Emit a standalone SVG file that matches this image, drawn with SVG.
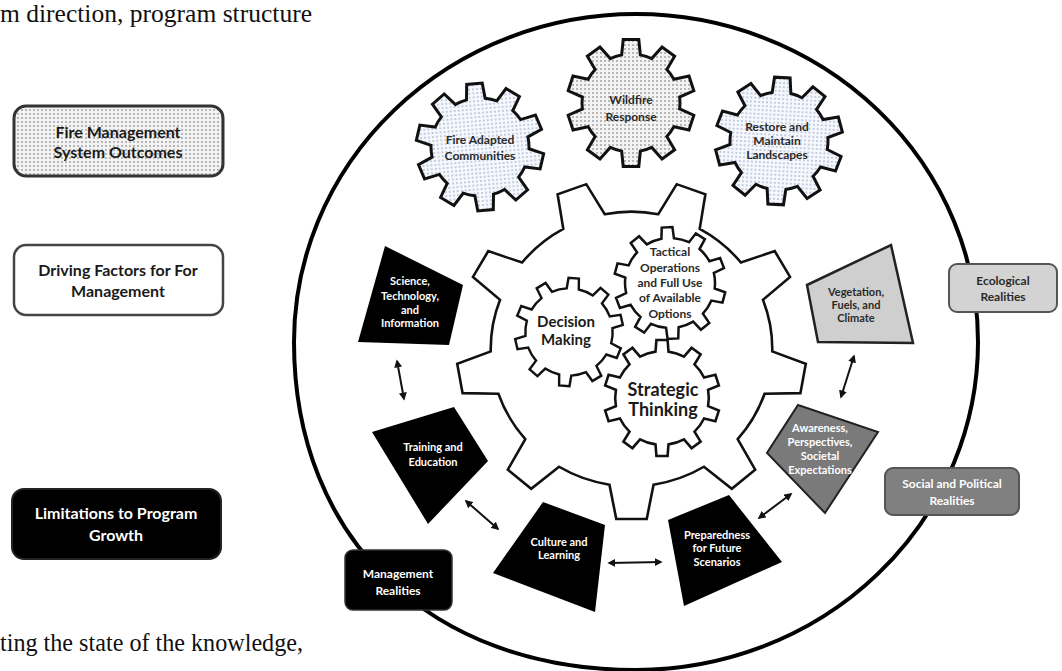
<svg xmlns="http://www.w3.org/2000/svg" width="1062" height="671" viewBox="0 0 1062 671">
<style>
.t{font-family:Lato,"Open Sans","Liberation Sans",sans-serif;font-weight:700;text-anchor:middle}
.lg{font-size:16px;fill:#1a1a1a}
.og{font-size:12px;fill:#2a2a2a}
.q{font-size:11px;fill:#fff}
.qd{font-size:11px;fill:#2a2a2a}
.re{font-size:12px}
.serif{font-family:"Liberation Serif","Times New Roman",serif;font-size:25px;fill:#111}
.outer{stroke:#111;stroke-width:3;stroke-linejoin:miter}
.inner{fill:#fff;stroke:#111;stroke-width:2.5}
.arr{stroke:#111;stroke-width:2;fill:none;marker-start:url(#ah);marker-end:url(#ah)}
</style>
<defs>
<pattern id="dotsGray" width="4" height="4" patternUnits="userSpaceOnUse">
<rect width="4" height="4" fill="#f3f3f3"/><circle cx="2" cy="2" r="0.9" fill="#9c9c9c"/>
</pattern>
<pattern id="dotsBlue" width="4" height="4" patternUnits="userSpaceOnUse">
<rect width="4" height="4" fill="#f6f8fc"/><circle cx="2" cy="2" r="0.9" fill="#aab8d4"/>
</pattern>
<marker id="ah" viewBox="0 0 10 10" refX="8" refY="5" markerWidth="4" markerHeight="4" orient="auto-start-reverse">
<path d="M0,0 L10,5 L0,10 Z" fill="#111"/>
</marker>
<path id="gearO" d="M48.63,5.97 L62.82,12.21 L58.00,27.05 L42.86,23.76 A49,49 0 0 1 35.84,33.42 L43.65,46.81 L31.03,55.97 L20.71,44.41 A49,49 0 0 1 9.35,48.10 L7.80,63.52 L-7.80,63.52 L-9.35,48.10 A49,49 0 0 1 -20.71,44.41 L-31.03,55.97 L-43.65,46.81 L-35.84,33.42 A49,49 0 0 1 -42.86,23.76 L-58.00,27.05 L-62.82,12.21 L-48.63,5.97 A49,49 0 0 1 -48.63,-5.97 L-62.82,-12.21 L-58.00,-27.05 L-42.86,-23.76 A49,49 0 0 1 -35.84,-33.42 L-43.65,-46.81 L-31.03,-55.97 L-20.71,-44.41 A49,49 0 0 1 -9.35,-48.10 L-7.80,-63.52 L7.80,-63.52 L9.35,-48.10 A49,49 0 0 1 20.71,-44.41 L31.03,-55.97 L43.65,-46.81 L35.84,-33.42 A49,49 0 0 1 42.86,-23.76 L58.00,-27.05 L62.82,-12.21 L48.63,-5.97 A49,49 0 0 1 48.63,5.97 Z"/>
<path id="gearS" d="M44.32,7.81 L54.67,12.12 L51.36,22.33 L40.45,19.73 A45,45 0 0 1 31.26,32.37 L37.11,41.94 L28.42,48.25 L21.13,39.73 A45,45 0 0 1 6.26,44.56 L5.36,55.74 L-5.36,55.74 L-6.26,44.56 A45,45 0 0 1 -21.13,39.73 L-28.42,48.25 L-37.11,41.94 L-31.26,32.37 A45,45 0 0 1 -40.45,19.73 L-51.36,22.33 L-54.67,12.12 L-44.32,7.81 A45,45 0 0 1 -44.32,-7.81 L-54.67,-12.12 L-51.36,-22.33 L-40.45,-19.73 A45,45 0 0 1 -31.26,-32.37 L-37.11,-41.94 L-28.42,-48.25 L-21.13,-39.73 A45,45 0 0 1 -6.26,-44.56 L-5.36,-55.74 L5.36,-55.74 L6.26,-44.56 A45,45 0 0 1 21.13,-39.73 L28.42,-48.25 L37.11,-41.94 L31.26,-32.37 A45,45 0 0 1 40.45,-19.73 L51.36,-22.33 L54.67,-12.12 L44.32,-7.81 A45,45 0 0 1 44.32,7.81 Z"/>
</defs>
<rect width="1062" height="671" fill="#fff"/>

<!-- page text -->
<text class="serif" x="0" y="22" textLength="312" lengthAdjust="spacingAndGlyphs">m direction, program structure</text>
<text class="serif" x="0" y="651" textLength="303" lengthAdjust="spacingAndGlyphs">ting the state of the knowledge,</text>

<!-- legend -->
<g id="legend-outcomes">
<rect x="14" y="106" width="209" height="70" rx="12" fill="url(#dotsGray)" stroke="#333" stroke-width="3"/>
<text class="t lg" x="118" y="138">Fire Management</text>
<text class="t lg" x="118" y="158">System Outcomes</text>
</g>
<g id="legend-driving">
<rect x="14" y="245" width="209" height="70" rx="12" fill="#fff" stroke="#444" stroke-width="2.5"/>
<text class="t lg" x="118" y="276">Driving Factors for For</text>
<text class="t lg" x="118" y="297">Management</text>
</g>
<g id="legend-limitations">
<rect x="12" y="489" width="209" height="70" rx="12" fill="#000" stroke="#222" stroke-width="2"/>
<text class="t lg" x="116" y="519" style="fill:#fff">Limitations to Program</text>
<text class="t lg" x="116" y="541" style="fill:#fff">Growth</text>
</g>

<!-- big outer ring -->
<g id="ring">
<path d="M294,342 A342,328 0 0 1 978,342 A342,328 0 0 1 636,670 C431,670 294,539 294,342 Z" fill="none" stroke="#000" stroke-width="4"/>
</g>

<!-- central gear -->
<g id="central-gear">
<path transform="translate(631.5,349) scale(1.035,1.01) translate(-631,-350)" fill="#fff" stroke="#111" stroke-width="2.5" stroke-linejoin="miter" d="M652.3,484.3 L645.7,518.4 L616.3,518.4 L609.7,484.3 A136,136 0 0 1 561.0,466.6 L534.1,488.4 L511.5,469.5 L528.4,439.2 A136,136 0 0 1 502.4,394.3 L467.8,393.7 L462.6,364.7 L495.0,352.4 A136,136 0 0 1 504.0,301.3 L477.8,278.6 L492.6,253.1 L525.3,264.4 A136,136 0 0 1 565.1,231.1 L559.6,196.8 L587.3,186.8 L605.1,216.5 A136,136 0 0 1 656.9,216.5 L674.7,186.8 L702.4,196.8 L696.9,231.1 A136,136 0 0 1 736.7,264.4 L769.4,253.1 L784.2,278.6 L758.0,301.3 A136,136 0 0 1 767.0,352.4 L799.4,364.7 L794.2,393.7 L759.6,394.3 A136,136 0 0 1 733.6,439.2 L750.5,469.5 L727.9,488.4 L701.0,466.6 A136,136 0 0 1 652.3,484.3 Z"/>
</g>

<!-- outcome gears -->
<g id="fire-adapted">
<use href="#gearO" class="outer" fill="url(#dotsBlue)" transform="translate(480,147) rotate(-5)"/>
<text class="t og" x="480" y="144">Fire Adapted</text>
<text class="t og" x="480" y="160">Communities</text>
</g>
<g id="wildfire-response">
<use href="#gearO" class="outer" fill="url(#dotsGray)" transform="translate(631,103)"/>
<text class="t og" x="631" y="104">Wildfire</text>
<text class="t og" x="631" y="121">Response</text>
</g>
<g id="restore-landscapes">
<use href="#gearO" class="outer" fill="url(#dotsBlue)" transform="translate(779,141) rotate(3)"/>
<text class="t og" x="777" y="131">Restore and</text>
<text class="t og" x="777" y="145">Maintain</text>
<text class="t og" x="777" y="159">Landscapes</text>
</g>

<!-- inner gears -->
<g id="tactical-operations">
<use href="#gearS" class="inner" transform="translate(670,283) rotate(-3)"/>
<text class="t og" x="670" y="256">Tactical</text>
<text class="t og" x="670" y="272">Operations</text>
<text class="t og" x="670" y="287">and Full Use</text>
<text class="t og" x="670" y="302">of Available</text>
<text class="t og" x="670" y="318">Options</text>
</g>
<g id="decision-making">
<use href="#gearS" class="inner" transform="translate(569,332) rotate(5) scale(0.97)"/>
<text class="t" x="566" y="327" style="font-size:15px;fill:#1a1a1a">Decision</text>
<text class="t" x="566" y="345" style="font-size:15px;fill:#1a1a1a">Making</text>
</g>
<g id="strategic-thinking">
<use href="#gearS" class="inner" transform="translate(662,398) scale(1.04)"/>
<text class="t" x="663" y="396" style="font-size:18px;fill:#1a1a1a">Strategic</text>
<text class="t" x="663" y="416" style="font-size:18px;fill:#1a1a1a">Thinking</text>
</g>

<!-- driving factors -->
<g id="science">
<polygon points="385,246 463,285 449,345 358,342" fill="#000"/>
<text class="t q" x="410" y="285">Science,</text>
<text class="t q" x="410" y="300">Technology,</text>
<text class="t q" x="410" y="314">and</text>
<text class="t q" x="410" y="327">Information</text>
</g>
<g id="training">
<polygon points="372,432 454,407 488,461 428,524" fill="#000"/>
<text class="t q" x="433" y="451">Training and</text>
<text class="t q" x="433" y="466">Education</text>
</g>
<g id="culture">
<polygon points="543,502 605,525 595,612 493,573" fill="#000"/>
<text class="t q" x="559" y="546">Culture and</text>
<text class="t q" x="559" y="559">Learning</text>
</g>
<g id="preparedness">
<polygon points="668,520 729,495 782,562 684,606" fill="#000"/>
<text class="t q" x="717" y="539">Preparedness</text>
<text class="t q" x="717" y="552">for Future</text>
<text class="t q" x="717" y="566">Scenarios</text>
</g>
<g id="awareness">
<polygon points="798,405 878,432 825,513 767,453" fill="#7a7a7a" stroke="#222" stroke-width="2"/>
<text class="t q" x="820" y="432">Awareness,</text>
<text class="t q" x="820" y="446">Perspectives,</text>
<text class="t q" x="820" y="460">Societal</text>
<text class="t q" x="820" y="474">Expectations</text>
</g>
<g id="vegetation">
<polygon points="807,285 891,245 913,343 818,342" fill="#cfcfcf" stroke="#222" stroke-width="2.5"/>
<text class="t qd" x="856" y="296">Vegetation,</text>
<text class="t qd" x="856" y="309">Fuels, and</text>
<text class="t qd" x="856" y="322">Climate</text>
</g>

<!-- realities -->
<g id="management-realities">
<rect x="345" y="550" width="107" height="60" rx="8" fill="#000" stroke="#333" stroke-width="1.5"/>
<text class="t re" x="398" y="578" style="fill:#fff">Management</text>
<text class="t re" x="398" y="595" style="fill:#fff">Realities</text>
</g>
<g id="ecological-realities">
<rect x="949" y="264" width="108" height="48" rx="8" fill="#d3d3d3" stroke="#555" stroke-width="2"/>
<text class="t re" x="1003" y="285" style="fill:#2a2a2a">Ecological</text>
<text class="t re" x="1003" y="301" style="fill:#2a2a2a">Realities</text>
</g>
<g id="social-political-realities">
<rect x="885" y="468" width="134" height="47" rx="8" fill="#808080" stroke="#555" stroke-width="2"/>
<text class="t re" x="952" y="488" style="fill:#fff">Social and Political</text>
<text class="t re" x="952" y="505" style="fill:#fff">Realities</text>
</g>

<!-- connectors -->
<g id="connectors">
<line class="arr" x1="397" y1="361" x2="404" y2="399"/>
<line class="arr" x1="466" y1="501" x2="498" y2="529"/>
<line class="arr" x1="609" y1="563" x2="661" y2="562"/>
<line class="arr" x1="759" y1="518" x2="791" y2="494"/>
<line class="arr" x1="854" y1="356" x2="841" y2="397"/>
</g>
</svg>
